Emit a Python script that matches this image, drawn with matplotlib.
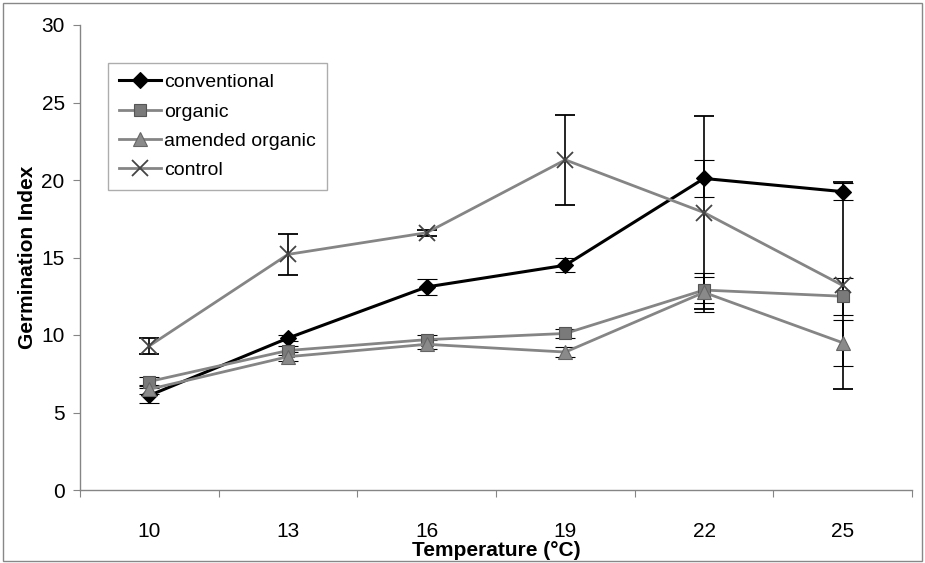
import matplotlib.pyplot as plt
from matplotlib.patches import Rectangle
from matplotlib.lines import Line2D

plt.rcParams['font.family'] = ['Liberation Sans', 'DejaVu Sans']

# datos
temperaturas = ["10", "13", "16", "19", "22", "25"]
conventional = [6.1, 9.8, 13.1, 14.5, 20.1, 19.25]
conventional_err = [0.5, 0.2, 0.5, 0.45, 1.2, 0.55]
organic = [7.0, 9.0, 9.7, 10.1, 12.9, 12.5]
organic_err = [0.3, 0.3, 0.3, 0.3, 0.85, 1.2]
amended = [6.5, 8.6, 9.4, 8.9, 12.75, 9.5]
amended_err = [0.3, 0.3, 0.3, 0.3, 1.25, 1.5]
control = [9.3, 15.2, 16.6, 21.3, 17.9, 13.2]
control_err = [0.5, 1.3, 0.2, 2.9, 6.2, 6.7]

fig = plt.figure(figsize=(9.25, 5.63), dpi=100)
ax = fig.add_axes([80 / 925, 73 / 563, 832 / 925, 465 / 563])

x = list(range(len(temperaturas)))
gris = '#858585'

series = [
    (conventional, conventional_err, 'conventional', 'black', 'D', 'black', 'black', 2.2, 8),
    (organic, organic_err, 'organic', gris, 's', '#7a7a7a', '#555555', 2.0, 9),
    (amended, amended_err, 'amended organic', gris, '^', '#8a8a8a', '#666666', 2.0, 10),
    (control, control_err, 'control', gris, 'x', '#444444', '#444444', 2.0, 12),
]

manijas = []
for vals, err, nombre, color, marca, relleno, borde, ancho, tam in series:
    grosor = 1.3 if marca == 'x' else 0.8
    ax.errorbar(x, vals, yerr=err, color=color, lw=ancho, marker=marca, ms=tam,
                mfc=relleno, mec=borde, mew=grosor,
                ecolor='black', elinewidth=1.2, capsize=7, capthick=1.2, zorder=3)
    manijas.append(Line2D([], [], color=color, lw=ancho, marker=marca, ms=tam,
                          mfc=relleno, mec=borde, mew=grosor, label=nombre))

ax.set_xlim(-0.5, len(temperaturas) - 0.5)
ax.set_ylim(0, 30)
ax.set_yticks(range(0, 31, 5))
ax.set_xticks([i - 0.5 for i in range(len(temperaturas) + 1)])
ax.set_xticklabels([])
ax.set_xticks(x, minor=True)
ax.set_xticklabels(temperaturas, minor=True)
ax.tick_params(axis='x', which='minor', length=0, pad=23, labelsize=15)
ax.tick_params(axis='x', which='major', length=5, color=gris)
ax.tick_params(axis='y', length=5, color=gris, labelsize=15, pad=6)

for lado in ['top', 'right']:
    ax.spines[lado].set_visible(False)
for lado in ['left', 'bottom']:
    ax.spines[lado].set_color(gris)
    ax.spines[lado].set_linewidth(1)

ax.set_xlabel('Temperature (°C)', fontsize=15, fontweight='bold', labelpad=0)
ax.set_ylabel('Germination Index', fontsize=15, fontweight='bold', labelpad=3)

leg = ax.legend(handles=manijas, loc='upper left', bbox_to_anchor=(28 / 832, 1 - 38 / 465),
                borderaxespad=0, fontsize=14, frameon=True, fancybox=False,
                handlelength=2.2, handletextpad=0.15, borderpad=0.55, labelspacing=0.6)
leg.get_frame().set_edgecolor('#999999')
leg.get_frame().set_linewidth(1)

# marco del grafico completo
fig.patches.append(Rectangle((0.003, 0.004), 0.994, 0.99, transform=fig.transFigure,
                             fill=False, edgecolor='#888888', lw=1))

plt.savefig('out.png', dpi=100)
